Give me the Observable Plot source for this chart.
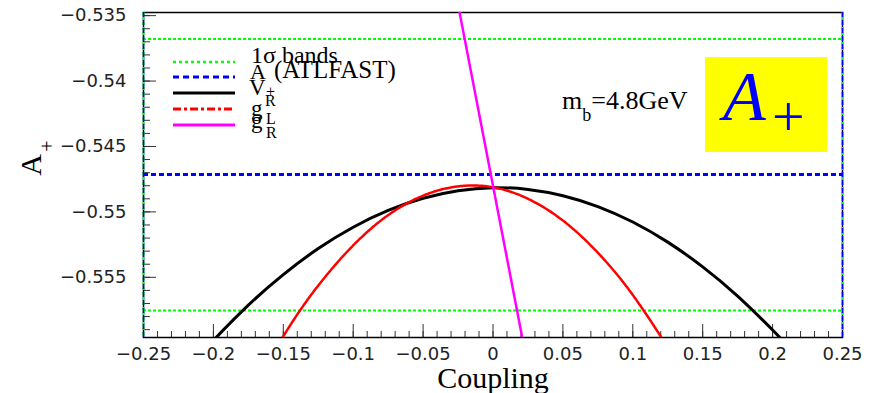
<!DOCTYPE html>
<html><head><meta charset="utf-8">
<script src="https://cdn.jsdelivr.net/npm/d3@7"></script>
<script src="https://cdn.jsdelivr.net/npm/@observablehq/plot@0.6"></script>
<style>
body{margin:0;background:#fff;}
#chart{width:871px;height:393px;}
</style>
</head><body><div id="chart"></div>
<script>
// ---- data ----
const vrCoupling = [-0.21, -0.2, -0.175, -0.15, -0.125, -0.1, -0.075, -0.05, -0.025, 0, 0.025, 0.05, 0.075, 0.1, 0.125, 0.15, 0.175, 0.2, 0.21];
const vrA        = [-0.56099, -0.55982, -0.55713, -0.55479, -0.55280, -0.55117, -0.54989, -0.54896, -0.54838, -0.54815, -0.54828, -0.54876, -0.54959, -0.55077, -0.55231, -0.55420, -0.55644, -0.55903, -0.56016];
const gLCoupling = [-0.16, -0.14, -0.12, -0.1, -0.08, -0.06, -0.04, -0.02, 0, 0.02, 0.04, 0.06, 0.08, 0.1, 0.12, 0.13];
const gLA        = [-0.56125, -0.55784, -0.55496, -0.55256, -0.55064, -0.54926, -0.54838, -0.54800, -0.54812, -0.54876, -0.54990, -0.55155, -0.55370, -0.55635, -0.55952, -0.56129];
const gRCoupling = [-0.03, 0.03];
const gRA        = [-0.53138, -0.56463];
const aPlusATLFAST = [-0.54715];
const sigmaBands   = [-0.53678, -0.55753];
const bandEdges    = [-0.25, 0.25];

const xMajor = [-0.25, -0.2, -0.15, -0.1, -0.05, 0, 0.05, 0.1, 0.15, 0.2, 0.25];
const yMajor = [-0.555, -0.55, -0.545, -0.54, -0.535];
const xMinor = d3.ticks(-0.25, 0.25, 50);
const yMinor = d3.ticks(-0.559, -0.535, 24);

const toRows = (xs, ys) => xs.map((x, i) => ({x, y: ys[i]}));
const fmt = d => d3.format("")(d);
const tickFont = {fontFamily: "DejaVu Sans", fontSize: 18};

const plot = Plot.plot({
  width: 871, height: 393,
  marginLeft: 143, marginRight: 29, marginTop: 12, marginBottom: 56,
  x: {domain: [-0.25, 0.25]},
  y: {domain: [-0.5596, -0.53476]},
  style: {background: "white"},
  marks: [
    Plot.axisX({ticks: xMinor, tickSize: -6, tickFormat: () => "", label: null, stroke: "#333"}),
    Plot.axisX({ticks: xMajor, tickSize: -13, tickPadding: 23, tickFormat: fmt, label: null, stroke: "#333", fill: "#222", ...tickFont}),
    Plot.axisY({ticks: yMinor, tickSize: -7, tickFormat: () => "", label: null, stroke: "#333"}),
    Plot.axisY({ticks: yMajor, tickSize: -13, tickPadding: 30, tickFormat: fmt, label: null, stroke: "#333", fill: "#222", ...tickFont}),
    Plot.frame({stroke: "black", strokeWidth: 1.5}),
    Plot.ruleY(sigmaBands, {stroke: "#00ff00", strokeWidth: 2, strokeDasharray: "3,2"}),
    Plot.ruleX(bandEdges, {stroke: "#00ff00", strokeWidth: 2, strokeDasharray: "3,2"}),
    Plot.ruleY(aPlusATLFAST, {stroke: "#0000ff", strokeWidth: 3, strokeDasharray: "5,3"}),
    Plot.ruleX(bandEdges, {stroke: "#0000ff", strokeWidth: 1.5, strokeDasharray: "5,3"}),
    Plot.line(toRows(vrCoupling, vrA), {x: "x", y: "y", stroke: "black", strokeWidth: 3, curve: "natural", clip: true}),
    Plot.line(toRows(gLCoupling, gLA), {x: "x", y: "y", stroke: "#ff0000", strokeWidth: 2.5, strokeDasharray: "5,1,2,1", curve: "natural", clip: true}),
    Plot.line(toRows(gRCoupling, gRA), {x: "x", y: "y", stroke: "#ff00ff", strokeWidth: 2.5, clip: true})
  ]
});
document.getElementById("chart").appendChild(plot);

// ---- annotations: legend, labels ----
const svg = d3.select(plot);
const serif = "Liberation Serif";
const g = svg.append("g").attr("text-anchor", "start");

// legend samples
const lx1 = 173, lx2 = 235;
const legendStyles = [
  {y: 62, stroke: "#00ff00", w: 2.5, dash: "3,3"},
  {y: 77, stroke: "#0000ff", w: 3, dash: "6,4"},
  {y: 93, stroke: "black", w: 3, dash: null},
  {y: 109, stroke: "#ff0000", w: 3, dash: "8,3,3,3"},
  {y: 125, stroke: "#ff00ff", w: 3, dash: null}
];
legendStyles.forEach(s => {
  g.append("line").attr("x1", lx1).attr("x2", lx2).attr("y1", s.y).attr("y2", s.y)
    .attr("stroke", s.stroke).attr("stroke-width", s.w).attr("stroke-dasharray", s.dash);
});
function txt(str, x, y, size, opts = {}) {
  const t = g.append("text").attr("font-family", opts.family || serif)
    .attr("font-size", size).attr("fill", opts.fill || "black")
    .attr("text-anchor", opts.anchor || "start").text(str);
  if (opts.transform) t.attr("transform", opts.transform);
  else t.attr("x", x).attr("y", y);
  if (opts.italic) t.attr("font-style", "italic");
  return t;
}
txt("1σ bands", 251, 63, 24);
txt("A", 250, 79, 22);
txt("+", 266, 97, 16);
txt("(ATLFAST)", 274, 78, 25);
txt("V", 249, 95, 23);
txt("R", 265, 106, 16);
txt("g", 251, 116, 23);
txt("L", 266, 124, 16);
txt("g", 251, 128, 23);
txt("R", 266, 138, 16);

// m_b label
const mb = g.append("text").attr("x", 562).attr("y", 109).attr("font-family", serif)
  .attr("font-size", 26).attr("fill", "black").attr("text-anchor", "start");
mb.append("tspan").text("m");
mb.append("tspan").attr("dy", 12).attr("font-size", 18).text("b");
mb.append("tspan").attr("dy", -12).text("=4.8GeV");

// yellow box with A+
g.append("rect").attr("x", 705).attr("y", 57).attr("width", 122).attr("height", 95).attr("fill", "#ffff00");
txt("A", 723, 120, 70, {italic: true, fill: "#0000ff"});
txt("+", 772, 136, 58, {fill: "#0000ff"});

// axis titles
txt("Coupling", 493, 388, 30, {anchor: "middle"});
txt("A", 0, 0, 30, {anchor: "middle", transform: "translate(41,165) rotate(-90)"});
txt("+", 0, 0, 20, {anchor: "middle", transform: "translate(54,146) rotate(-90)"});
</script>
</body></html>
